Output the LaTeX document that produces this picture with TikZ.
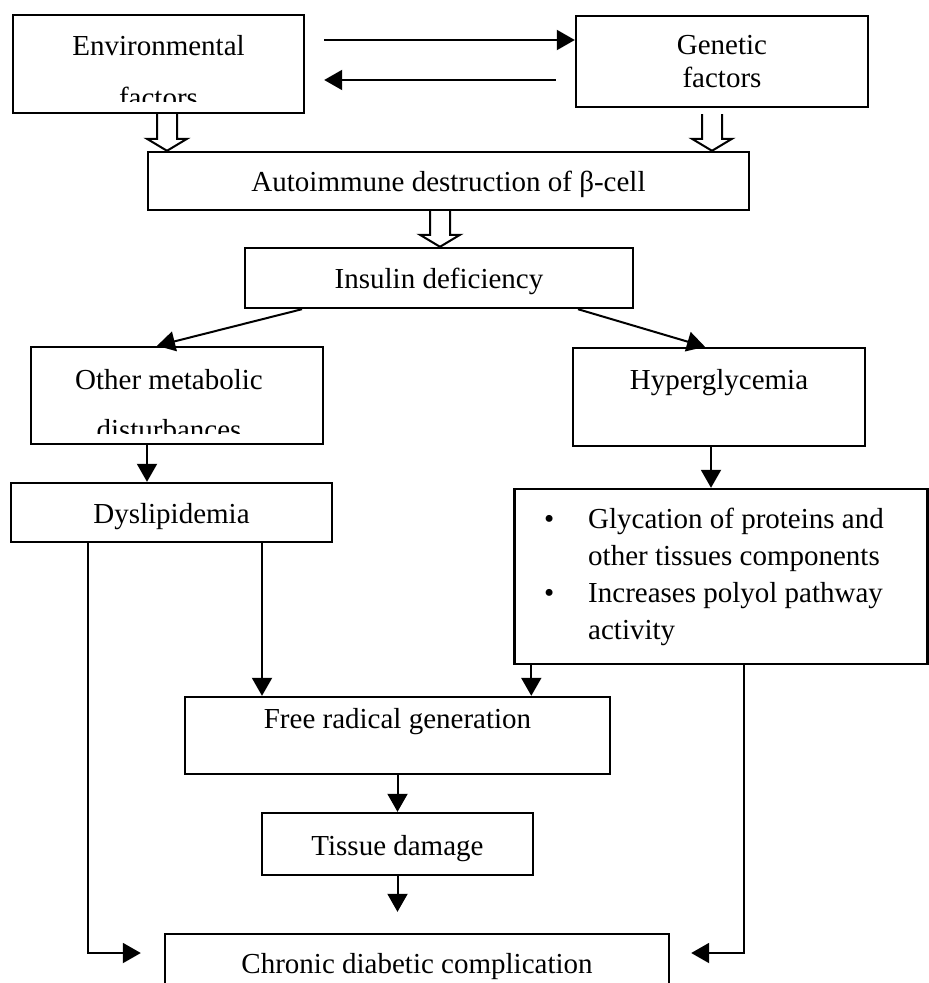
\documentclass[tikz,border=0pt]{standalone}
\usepackage{fontspec}
\setmainfont{Liberation Serif}
\usetikzlibrary{arrows.meta,calc}

% open block arrow pointing down, from #1 to the level of #2
\newcommand{\hollowdown}[2]{%
  \draw[line width=1pt] let \p1=(#1), \p2=(#2) in
    (\x1-5pt,\y1) -- (\x1-5pt,\y2+6pt) -- (\x1-10pt,\y2+6pt) -- (\x1,\y2)
    -- (\x1+10pt,\y2+6pt) -- (\x1+5pt,\y2+6pt) -- (\x1+5pt,\y1);}

\begin{document}
\begin{tikzpicture}[
    x=0.5pt, y=-0.5pt,
    font=\fontsize{14.5}{17}\selectfont,
  ]

\tikzstyle{box} = [rectangle, draw=black, line width=1.2pt, inner sep=0pt, align=center]
\tikzstyle{oneline} = [text height=12pt, text depth=1pt]
\tikzstyle{txt} = [inner sep=0pt, align=center]
\tikzstyle{arr} = [line width=1pt, -{Triangle[length=9pt,width=10pt]}]

    \useasboundingbox (0,0) rectangle (929,983);

    \node [box, minimum width=145.5pt, minimum height=49pt] (env) at (158.5,64) {};
    \begin{scope}
      \clip (13,15) rectangle (304,102);
      \node [txt, font=\fontsize{14.5}{26}\selectfont] (envtext) at (158.5,72) {Environmental\\factors};
    \end{scope}
    \node [box, minimum width=146pt, minimum height=45.5pt, font=\fontsize{14.5}{16.5}\selectfont] (gen) at (722,61.5) {Genetic\\factors};
    \node [box, oneline, minimum width=300.5pt, minimum height=29pt] (auto) at (448.5,181) {Autoimmune destruction of β-cell};
    \node [box, oneline, minimum width=194pt, minimum height=30pt] (ins) at (439,278) {Insulin deficiency};
    \node [box, minimum width=146pt, minimum height=48.5pt] (other) at (177,395.5) {};
    \begin{scope}
      \clip (31,347) rectangle (323,433);
      \node [txt, font=\fontsize{14.5}{25}\selectfont] (othertext) at (169,405) {Other metabolic\\disturbances};
    \end{scope}
    \node [box, minimum width=146pt, minimum height=49pt, label={[yshift=7pt]center:Hyperglycemia}] (hyp) at (719,397) {};
    \node [box, oneline, minimum width=160.5pt, minimum height=29.5pt] (dys) at (171.5,512.5) {Dyslipidemia};
    \node [box, minimum width=206.5pt, minimum height=87.5pt, font=\fontsize{14.5}{18.5}\selectfont] (gly) at (721,576.5) {%
      \begin{tabular}{@{}p{22pt}@{}l@{\hspace{7pt}}}
        \textbullet & Glycation of proteins and\\
                    & other tissues components\\
        \textbullet & Increases polyol pathway\\
                    & activity
      \end{tabular}};
    \node [box, minimum width=212.5pt, minimum height=38.5pt, label={[yshift=7pt]center:Free radical generation}] (free) at (397.5,735.5) {};
    \node [box, oneline, minimum width=135.5pt, minimum height=31pt] (tis) at (397.5,844) {Tissue damage};
    \node [box, oneline, minimum width=252pt, minimum height=28pt] (chr) at (417,962) {Chronic diabetic complication};

    % two-way arrows between the top boxes
    \coordinate (envR) at ([shift={(19,-24)}]env.east);
    \draw [arr] (envR) -- (envR -| gen.west);
    \coordinate (genL) at ([shift={(-19,18.5)}]gen.west);
    \draw [arr] (genL) -- (genL -| envR);

    \hollowdown{[xshift=4.25pt]env.south}{auto.north}
    \hollowdown{[shift={(-5pt,-3pt)}]gen.south}{auto.north}
    \hollowdown{[xshift=-4.25pt]auto.south}{ins.north}

    \draw [arr] ([xshift=-68.5pt]ins.south) -- ([xshift=-10pt]other.north);
    \draw [arr] ([xshift=69.5pt]ins.south) -- ([xshift=-7pt]hyp.north);
    \draw [arr] ([xshift=-15pt]other.south) -- ([xshift=-15pt]other.south |- dys.north);
    \draw [arr] ([xshift=-4pt]hyp.south) -- ([xshift=-4pt]hyp.south |- gly.north);
    \draw [arr] ([xshift=45.25pt]dys.south) -- ([xshift=45.25pt]dys.south |- free.north);
    \draw [arr] ([xshift=9pt]gly.south west) -- ([xshift=9pt]gly.south west |- free.north);
    \draw [arr] (free.south) -- (tis.north);
    \coordinate (chrtop) at ([yshift=10.5pt]chr.north);
    \draw [arr] (tis.south) -- (tis.south |- chrtop);
    \draw [arr] ([xshift=39pt]dys.south west) |- ([shift={(-11.5pt,4.5pt)}]chr.west);
    \draw [arr] ([xshift=115.5pt]gly.south west) |- ([shift={(10.5pt,4.5pt)}]chr.east);
\end{tikzpicture}
\end{document}
